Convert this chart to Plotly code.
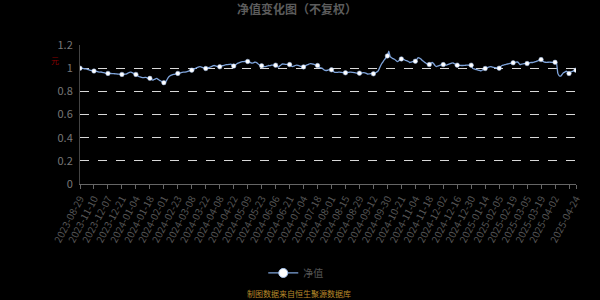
import plotly.graph_objects as go

# Net value (净值) per trading day, index 0..355
values = [
    1.000, 1.001, 0.998, 0.995, 0.994, 0.991, 0.988, 0.983, 0.980, 0.978,
    0.975, 0.974, 0.972, 0.969, 0.966, 0.967, 0.964, 0.961, 0.958, 0.957,
    0.955, 0.956, 0.954, 0.953, 0.953, 0.952, 0.950, 0.949, 0.948, 0.947,
    0.946, 0.947, 0.948, 0.949, 0.955, 0.962, 0.966, 0.963, 0.957, 0.951,
    0.946, 0.938, 0.928, 0.924, 0.921, 0.918, 0.919, 0.921, 0.917, 0.914,
    0.912, 0.905, 0.897, 0.902, 0.908, 0.911, 0.903, 0.895, 0.889, 0.882,
    0.875, 0.878, 0.895, 0.917, 0.930, 0.938, 0.942, 0.946, 0.948, 0.951,
    0.955, 0.957, 0.960, 0.963, 0.966, 0.965, 0.968, 0.972, 0.976, 0.979,
    0.983, 0.988, 0.994, 1.001, 1.006, 1.011, 1.013, 1.009, 1.004, 1.000,
    0.997, 0.999, 1.004, 1.008, 1.013, 1.019, 1.023, 1.020, 1.016, 1.013,
    1.012, 1.016, 1.021, 1.025, 1.028, 1.030, 1.031, 1.033, 1.034, 1.026,
    1.018, 1.025, 1.035, 1.044, 1.048, 1.053, 1.057, 1.056, 1.058, 1.060,
    1.058, 1.054, 1.048, 1.043, 1.046, 1.051, 1.050, 1.042, 1.031, 1.024,
    1.020, 1.016, 1.014, 1.013, 1.018, 1.023, 1.022, 1.026, 1.027, 1.026,
    1.026, 1.015, 1.009, 1.020, 1.030, 1.037, 1.035, 1.032, 1.033, 1.030,
    1.031, 1.022, 1.014, 1.018, 1.023, 1.026, 1.024, 1.020, 1.016, 1.012,
    1.011, 1.018, 1.026, 1.030, 1.036, 1.040, 1.038, 1.034, 1.030, 1.026,
    1.023, 1.012, 1.003, 1.000, 0.992, 0.983, 0.980, 0.982, 0.986, 0.987,
    0.986, 0.975, 0.966, 0.963, 0.964, 0.965, 0.966, 0.964, 0.962, 0.961,
    0.960, 0.962, 0.964, 0.965, 0.966, 0.964, 0.962, 0.960, 0.958, 0.957,
    0.957, 0.958, 0.960, 0.961, 0.960, 0.955, 0.949, 0.950, 0.952, 0.954,
    0.951, 0.957, 0.964, 0.971, 0.990, 1.017, 1.040, 1.057, 1.075, 1.090,
    1.106, 1.146, 1.100, 1.090, 1.082, 1.077, 1.068, 1.057, 1.062, 1.074,
    1.080, 1.078, 1.074, 1.066, 1.063, 1.058, 1.049, 1.052, 1.056, 1.058,
    1.060, 1.075, 1.091, 1.087, 1.079, 1.066, 1.058, 1.048, 1.040, 1.034,
    1.031, 1.040, 1.049, 1.040, 1.024, 1.014, 1.018, 1.022, 1.026, 1.030,
    1.031, 1.029, 1.026, 1.030, 1.034, 1.039, 1.043, 1.046, 1.038, 1.031,
    1.026, 1.025, 1.024, 1.023, 1.023, 1.024, 1.025, 1.026, 1.027, 1.026,
    1.026, 0.998, 0.993, 0.990, 0.987, 0.983, 0.980, 0.977, 0.984, 0.991,
    0.997, 1.002, 1.007, 1.011, 1.014, 1.010, 1.006, 1.004, 1.002, 1.001,
    1.000, 1.012, 1.023, 1.027, 1.030, 1.033, 1.036, 1.039, 1.042, 1.044,
    1.046, 1.049, 1.052, 1.054, 1.045, 1.031, 1.034, 1.037, 1.039, 1.040,
    1.040, 1.044, 1.047, 1.049, 1.049, 1.052, 1.056, 1.061, 1.066, 1.070,
    1.074, 1.064, 1.055, 1.051, 1.050, 1.051, 1.052, 1.051, 1.050, 1.051,
    1.051, 1.046, 0.955, 0.935, 0.931, 0.945, 0.960, 0.966, 0.974, 0.965,
    0.954, 0.963, 0.971, 0.975, 0.979, 0.983,
]

# Labels shown every 10 trading days (the tick at index 350 has no label)
tick_labels = [
    "2023-08-29", "2023-11-10", "2023-12-07", "2023-12-21", "2024-01-04",
    "2024-01-18", "2024-02-01", "2024-02-23", "2024-03-08", "2024-03-22",
    "2024-04-08", "2024-04-22", "2024-05-09", "2024-05-23", "2024-06-06",
    "2024-06-21", "2024-07-04", "2024-07-18", "2024-08-01", "2024-08-15",
    "2024-08-29", "2024-09-12", "2024-09-30", "2024-10-21", "2024-11-04",
    "2024-11-18", "2024-12-02", "2024-12-16", "2024-12-30", "2025-01-14",
    "2025-02-05", "2025-02-19", "2025-03-05", "2025-03-19", "2025-04-02",
]
last_label = "2025-04-24"

n = len(values)
x = list(range(n))
step = 10
tickvals = list(range(0, n, step)) + [n - 1]
ticktext = tick_labels + [""] * (len(range(0, n, step)) - len(tick_labels)) + [last_label]

marker_idx = list(range(0, n, step)) + [n - 1]

FONT = "Noto Sans CJK SC"
LINE_COLOR = "#7ea3da"

fig = go.Figure()
fig.add_trace(go.Scatter(
    x=x, y=values, mode="lines", showlegend=False,
    line=dict(color=LINE_COLOR, width=1.3, shape="spline", smoothing=0.4),
    hoverinfo="skip",
))
fig.add_trace(go.Scatter(
    x=[x[i] for i in marker_idx], y=[values[i] for i in marker_idx],
    mode="markers", showlegend=False,
    marker=dict(color="#ffffff", size=4.5, line=dict(color="#9ab8e6", width=0.5)),
))
fig.add_trace(go.Scatter(
    x=[None], y=[None], mode="lines+markers", name="净值",
    line=dict(color=LINE_COLOR, width=1.3),
    marker=dict(color="#ffffff", size=9, line=dict(color="#a8c4ee", width=1)),
))

fig.update_layout(
    width=600, height=300,
    margin=dict(l=80, r=24, t=45, b=114),
    paper_bgcolor="#000000", plot_bgcolor="#000000",
    font=dict(family=FONT, color="#777777"),
    title=dict(text="<b>净值变化图（不复权）</b>", x=0.495, xanchor="center",
               y=0.967, yanchor="middle",
               font=dict(family=FONT, size=12, color="#5c5c5c")),
    showlegend=True,
    legend=dict(orientation="h", x=0.435, xanchor="center", y=-0.64, yanchor="middle",
                bgcolor="rgba(0,0,0,0)", font=dict(family=FONT, size=10, color="#555555"),
                itemwidth=30),
    xaxis=dict(
        range=[0, n - 1], tickmode="array", tickvals=tickvals, ticktext=ticktext,
        tickangle=-62, tickfont=dict(family=FONT, size=10, color="#555555"),
        showgrid=False, zeroline=False, showline=True, linecolor="#666666", linewidth=1,
        ticks="outside", ticklen=4, tickcolor="#666666",
    ),
    yaxis=dict(
        range=[0, 1.2], dtick=0.2, tick0=0,
        tickfont=dict(family=FONT, size=11, color="#777777"),
        showgrid=True, gridcolor="#d8d8d8", griddash="dash", gridwidth=1,
        zeroline=False, showline=True, linecolor="#444444", linewidth=1,
        ticks="", ticklabelstandoff=4,
    ),
    annotations=[
        dict(text="元", xref="paper", yref="paper", x=-0.05, y=0.887,
             xanchor="center", yanchor="middle",
             showarrow=False, font=dict(family=FONT, size=8, color="#8b0000")),
        dict(text="制图数据来自恒生聚源数据库", xref="paper", yref="paper",
             x=0.442, y=-0.785, xanchor="center", yanchor="middle", showarrow=False,
             font=dict(family=FONT, size=8, color="#b8892a")),
    ],
)

fig.write_html("out.html")
